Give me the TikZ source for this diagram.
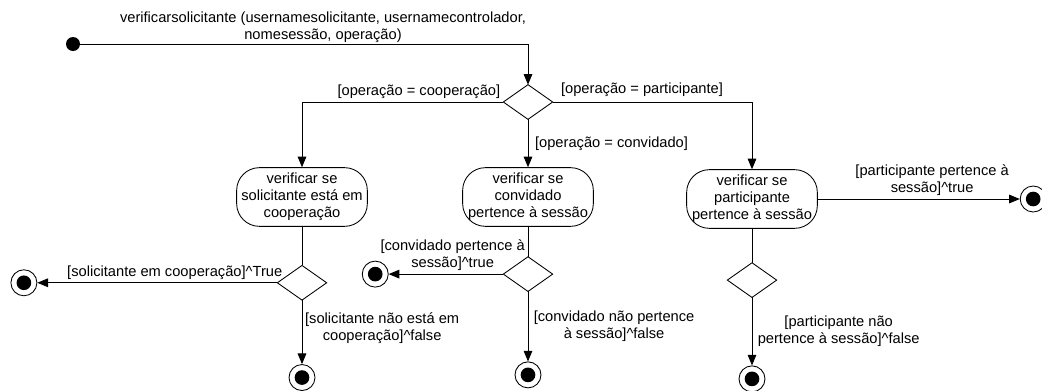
\documentclass[tikz,border=0pt]{standalone}
\usepackage{fontspec}
\setmainfont{Liberation Sans}
\usetikzlibrary{positioning,shapes.geometric,arrows.meta}

\begin{document}
\begin{tikzpicture}[x=0.75pt,y=-0.75pt,
        font=\fontsize{11}{12.75}\selectfont,
        line width=0.65pt,
        inicio/.style={circle,fill=black,inner sep=0pt,minimum size=10.5pt},
        fim/.style={circle,draw,inner sep=0pt,minimum size=19.5pt,
            path picture={\fill (path picture bounding box.center) circle (5.5pt);}},
        atividade/.style={draw,rounded corners=17pt,align=center,
            minimum width=98pt,minimum height=44pt,inner sep=1pt},
        decisao/.style={diamond,draw,inner sep=0pt,outer sep=0pt,
            minimum width=37pt,minimum height=26pt},
        fluxo/.style={-{Triangle[length=8pt,width=6.5pt]}},
        guarda/.style={align=center,inner sep=2pt}]
    \useasboundingbox (0,0) rectangle (1042,390);

    \node[inicio] (inicio) at (73,44) {};
    \node[align=center] (titulo) at (323,27)
        {verificarsolicitante (usernamesolicitante, usernamecontrolador,\\nomesessão, operação)};
    \node[decisao] (dec0) at (528,102) {};

    \node[atividade] (act1) at (302,197) {verificar se\\solicitante está em\\cooperação};
    \node[atividade] (act2) at (528,197) {verificar se\\convidado\\pertence à sessão};
    \node[atividade] (act3) at (752,199) {verificar se\\participante\\pertence à sessão};

    \node[decisao, below=29pt of act1] (dec1) {};
    \node[decisao, below=22.5pt of act2] (dec2) {};
    \node[decisao, below=25.5pt of act3] (dec3) {};

    \node[fim, left=180pt of dec1] (f1) {};
    \node[fim, below=48pt of dec1] (f2) {};
    \node[fim, left=86pt of dec2] (f3) {};
    \node[fim, below=52.5pt of dec2] (f4) {};
    \node[fim, right=151.5pt of act3] (f5) {};
    \node[fim, below=51pt of dec3] (f6) {};

    \draw[fluxo] (inicio) -| (dec0.north);
    \draw[fluxo] (dec0.west) node[guarda,above left]{[operação = cooperação]} -| (act1.north);
    \draw[fluxo] (dec0.east) node[guarda,above right,xshift=4pt,yshift=2pt]{[operação = participante]} -| (act3.north);
    \draw[fluxo] (dec0.south) -- node[guarda,right,xshift=3pt]{[operação = convidado]} (act2.north);

    \draw (act1) -- (dec1);
    \draw (act2) -- (dec2);
    \draw (act3) -- (dec3);

    \draw[fluxo] (dec1.west) node[guarda,above left,xshift=6pt]{[solicitante em cooperação]\textasciicircum True} -- (f1);
    \draw[fluxo] (dec1.south) -- node[guarda,right,yshift=3pt]{[solicitante não está em\\cooperação]\textasciicircum false} (f2);
    \draw[fluxo] (dec2.west) -- node[guarda,above,xshift=5pt]{[convidado pertence à\\sessão]\textasciicircum true} (f3);
    \draw[fluxo] (dec2.south) -- node[guarda,right,xshift=2pt]{[convidado não pertence\\à sessão]\textasciicircum false} (f4);
    \draw[fluxo] (act3) -- node[guarda,above,xshift=10pt]{[participante pertence à\\sessão]\textasciicircum true} (f5);
    \draw[fluxo] (dec3.south) -- node[guarda,right,xshift=2pt]{[participante não\\pertence à sessão]\textasciicircum false} (f6);
\end{tikzpicture}
\end{document}
